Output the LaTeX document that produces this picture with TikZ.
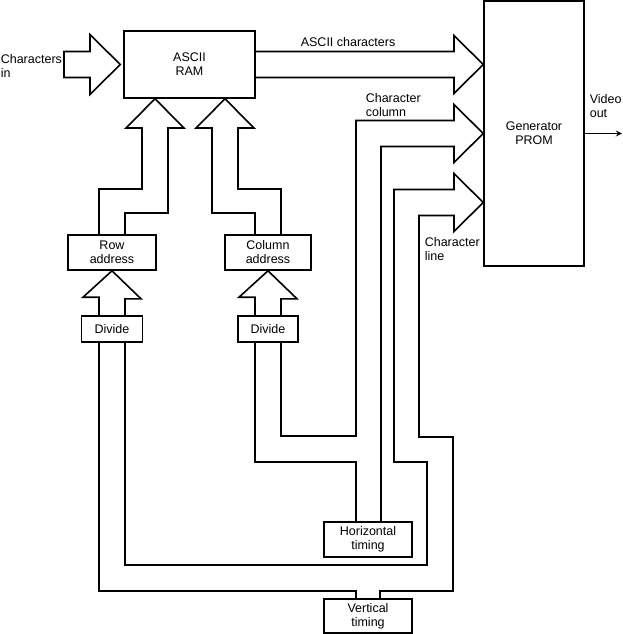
\documentclass[tikz,border=0pt]{standalone}
\usepackage{fontspec}
\setmainfont{Liberation Sans}
\usetikzlibrary{arrows, positioning, calc}

\begin{document}
\begin{tikzpicture}[x=1pt, y=-1pt, line width=1.6pt,
    block/.style={rectangle, draw, align=center, inner sep=0pt, font=\fontsize{12.5}{14}\selectfont},
    note/.style={align=left, inner sep=0pt, anchor=west, font=\fontsize{12.5}{14}\selectfont},
    arrow/.style={->,>=stealth}]
    \useasboundingbox (0,0) rectangle (622,634);
    % blocks
    \node [block, minimum width=131pt, minimum height=67pt] (ram) at (189.5,64.5) {ASCII\\RAM};
    \node [block, minimum width=100pt, minimum height=265pt] (prom) at (534,133.5) {Generator\\PROM};
    \node [block, minimum width=88pt, minimum height=35pt] (rowaddr) at (112,252.5) {Row\\address};
    \node [block, minimum width=86pt, minimum height=35pt] (coladdr) at (268,252.5) {Column\\address};
    \node [block, minimum width=61pt, minimum height=26pt] (rowdiv) at (112,329) {Divide};
    \node [block, minimum width=60pt, minimum height=26pt] (coldiv) at (268,329) {Divide};
    \node [block, minimum width=88pt, minimum height=35pt] (htime) at (368,539.5) {Horizontal\\timing};
    \node [block, minimum width=88pt, minimum height=34pt] (vtime) at (368,616) {Vertical\\timing};
    % labels
    \node [note] (chin) at (0,66) {Characters\\in};
    \node [note] (asciilbl) at (300,42) {ASCII characters};
    \node [note] (collbl) at (365,105) {Character\\column};
    \node [note] (linelbl) at (424,249) {Character\\line};
    \node [note] (vidlbl) at (589,106) {Video\\out};
    % input bus
    \draw (64,51.5) -- (90,51.5) -- (90,34.5) -- ($(ram.west)+(-3,0)$) -- (90,94.5) -- (90,77.5) -- (64,77.5) -- cycle;
    % ascii characters bus
    \draw ($(ram.east)+(0,-13)$) -- (454,51.5) -- (454,35.5) -- ($(prom.west)+(0,-69)$) -- (454,93.5) -- (454,77.5) -- ($(ram.east)+(0,13)$);
    % character column bus
    \draw ($(coldiv.south)+(13,0)$) |- (356,436) -- (356,120.5) -- (454,120.5) -- (454,104.5) -- (prom.west) -- (454,162.5) -- (454,146.5) -| ($(htime.north)+(13,0)$);
    \draw ($(coldiv.south)+(-13,0)$) |- (356,462) -- ($(htime.north)+(-12,0)$);
    % character line bus
    \draw ($(rowdiv.south)+(13,0)$) |- (427,565) -- (427,462) -- (394,462) -- (394,189.5) -- (454,189.5) -- (454,173.5) -- ($(prom.west)+(0,69)$) -- (454,231.5) -- (454,215.5) -- (419,215.5) -- (419,437) -- (453,437) -- (453,591) -| ($(vtime.north)+(12,0)$);
    \draw ($(rowdiv.south)+(-13,0)$) |- (356,591) -- ($(vtime.north)+(-12,0)$);
    % address buses into RAM
    \draw ($(rowaddr.north)+(-13,0)$) |- (142,189) -- (142,128) -- (126,128) -- ($(ram.south)+(-34.5,0)$) -- (184,128) -- (168,128) -- (168,213) -| ($(rowaddr.north)+(13,0)$);
    \draw ($(coladdr.north)+(-13,0)$) |- (212,213) -- (212,128) -- (196,128) -- ($(ram.south)+(35.5,0)$) -- (254,128) -- (238,128) -- (238,189) -| ($(coladdr.north)+(13,0)$);
    % divide to address
    \draw ($(rowdiv.north)+(-13,0)$) -- ++(0,-18) -- ++(-16,0) -- (rowaddr.south) -- ++(29,28) -- ++(-16,0) -- ($(rowdiv.north)+(13,0)$);
    \draw ($(coldiv.north)+(-13,0)$) -- ++(0,-18) -- ++(-16,0) -- (coladdr.south) -- ++(29,28) -- ++(-16,0) -- ($(coldiv.north)+(13,0)$);
    % video out
    \draw [arrow] (prom.east) -- ++(37,0);
\end{tikzpicture}
\end{document}
